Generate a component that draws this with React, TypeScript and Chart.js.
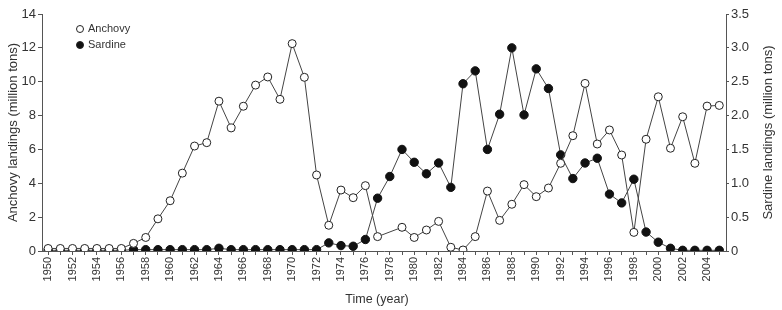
import React, { useEffect, useRef } from "react";
import { Chart, registerables } from "chart.js";

Chart.register(...registerables);

const years = [
  1950, 1951, 1952, 1953, 1954, 1955, 1956, 1957, 1958, 1959,
  1960, 1961, 1962, 1963, 1964, 1965, 1966, 1967, 1968, 1969,
  1970, 1971, 1972, 1973, 1974, 1975, 1976, 1977, 1978, 1979,
  1980, 1981, 1982, 1983, 1984, 1985, 1986, 1987, 1988, 1989,
  1990, 1991, 1992, 1993, 1994, 1995, 1996, 1997, 1998, 1999,
  2000, 2001, 2002, 2003, 2004, 2005,
];

const anchovy: (number | null)[] = [
  0.15, 0.15, 0.15, 0.15, 0.15, 0.15, 0.15, 0.45, 0.8, 1.9,
  2.97, 4.6, 6.2, 6.4, 8.85, 7.27, 8.55, 9.8, 10.28, 8.96,
  12.25, 10.26, 4.49, 1.52, 3.6, 3.15, 3.86, 0.85, null, 1.4,
  0.8, 1.24, 1.75, 0.22, 0.06, 0.85, 3.54, 1.81, 2.76, 3.92,
  3.21, 3.72, 5.18, 6.81, 9.9, 6.32, 7.15, 5.67, 1.1, 6.6,
  9.11, 6.07, 7.93, 5.18, 8.56, 8.6,
];

const sardine: number[] = [
  0.01, 0.01, 0.01, 0.01, 0.01, 0.01, 0.01, 0.02, 0.02, 0.02,
  0.02, 0.02, 0.02, 0.02, 0.04, 0.02, 0.02, 0.02, 0.02, 0.02,
  0.02, 0.02, 0.02, 0.12, 0.08, 0.07, 0.17, 0.78, 1.1, 1.5,
  1.31, 1.14, 1.3, 0.94, 2.47, 2.66, 1.5, 2.02, 3.0, 2.01,
  2.69, 2.4, 1.42, 1.07, 1.3, 1.37, 0.84, 0.71, 1.06, 0.28,
  0.13, 0.04, 0.01, 0.01, 0.01, 0.01,
];

const seriesNames = ["Anchovy", "Sardine"];
const leftTitle = "Anchovy landings (million tons)";
const rightTitle = "Sardine landings (million tons)";
const xTitle = "Time (year)";

const FONT = "'Liberation Sans', Arial, sans-serif";
const INK = "#333333";
const AXIS = "#555555";

const overlayPlugin = {
  id: "overlay",
  afterDraw(chart: any) {
    const ctx = chart.ctx as CanvasRenderingContext2D;
    const area = chart.chartArea;
    ctx.save();
    // legend
    const lx = area.left + 38;
    const rows = [area.top + 15, area.top + 31];
    ctx.font = `11px ${FONT}`;
    ctx.textBaseline = "middle";
    ctx.textAlign = "left";
    rows.forEach((y, i) => {
      ctx.beginPath();
      ctx.arc(lx, y, 3.5, 0, Math.PI * 2);
      ctx.fillStyle = i === 0 ? "#ffffff" : "#111111";
      ctx.fill();
      ctx.lineWidth = 1;
      ctx.strokeStyle = "#222222";
      ctx.stroke();
      ctx.fillStyle = INK;
      ctx.fillText(seriesNames[i], lx + 8, y);
    });
    // x axis title
    ctx.font = `12.5px ${FONT}`;
    ctx.textAlign = "center";
    ctx.textBaseline = "middle";
    ctx.fillStyle = INK;
    ctx.fillText(xTitle, 377, 300);
    // right axis title (reads bottom to top)
    ctx.translate(768, (area.top + area.bottom) / 2);
    ctx.rotate(-Math.PI / 2);
    ctx.font = `13px ${FONT}`;
    ctx.fillText(rightTitle, 0, 0);
    ctx.restore();
  },
};

export default function App() {
  const ref = useRef<HTMLCanvasElement>(null);
  useEffect(() => {
    if (!ref.current) return;
    const chart = new Chart(ref.current, {
      type: "line",
      data: {
        datasets: [
          {
            label: seriesNames[0],
            data: years.map((y, i) => ({ x: y, y: anchovy[i] })) as any,
            yAxisID: "y",
            borderColor: "#444444",
            borderWidth: 1,
            pointRadius: 4,
            pointBorderWidth: 1,
            pointBackgroundColor: "#ffffff",
            pointBorderColor: "#222222",
            spanGaps: true,
            tension: 0,
          },
          {
            label: seriesNames[1],
            data: years.map((y, i) => ({ x: y, y: sardine[i] })) as any,
            yAxisID: "y2",
            borderColor: "#444444",
            borderWidth: 1,
            pointRadius: 4.2,
            pointBorderWidth: 1,
            pointBackgroundColor: "#111111",
            pointBorderColor: "#111111",
            tension: 0,
          },
        ],
      },
      options: {
        animation: false,
        responsive: true,
        maintainAspectRatio: false,
        layout: { padding: { top: 14, left: 0, right: 0, bottom: 0 } },
        plugins: {
          legend: { display: false },
          tooltip: { enabled: false },
        },
        scales: {
          x: {
            type: "linear",
            min: 1949.5,
            max: 2005.55,
            afterFit: (s: any) => {
              s.height = 59;
            },
            border: { display: true, color: AXIS, width: 1 },
            grid: {
              display: true,
              drawOnChartArea: false,
              drawTicks: true,
              tickLength: 4,
              color: AXIS,
            },
            ticks: {
              stepSize: 1,
              autoSkip: false,
              includeBounds: false,
              maxRotation: 90,
              minRotation: 90,
              padding: 2,
              color: INK,
              font: { family: FONT, size: 11 },
              callback: (v: any) => (Number(v) % 2 === 0 ? String(v) : ""),
            },
          },
          y: {
            type: "linear",
            position: "left",
            min: 0,
            max: 14,
            afterFit: (s: any) => {
              s.width = 42;
            },
            border: { display: true, color: AXIS, width: 1 },
            grid: {
              display: true,
              drawOnChartArea: false,
              drawTicks: true,
              tickLength: 4,
              color: AXIS,
            },
            ticks: {
              stepSize: 2,
              padding: 2,
              color: INK,
              font: { family: FONT, size: 13 },
            },
            title: {
              display: true,
              text: leftTitle,
              color: INK,
              font: { family: FONT, size: 13 },
              padding: { top: 6, bottom: 0 },
            },
          },
          y2: {
            type: "linear",
            position: "right",
            min: 0,
            max: 3.5,
            afterFit: (s: any) => {
              s.width = 56;
            },
            border: { display: true, color: AXIS, width: 1 },
            grid: {
              display: true,
              drawOnChartArea: false,
              drawTicks: true,
              tickLength: 3,
              color: AXIS,
            },
            ticks: {
              stepSize: 0.5,
              padding: 2,
              color: INK,
              font: { family: FONT, size: 13 },
              callback: (v: any) => (Number(v) === 0 ? "0" : Number(v).toFixed(1)),
            },
          },
        },
      },
      plugins: [overlayPlugin],
    });
    return () => chart.destroy();
  }, []);
  return (
    <div style={{ position: "fixed", left: 0, top: 0, width: 782, height: 310, background: "#fff" }}>
      <canvas ref={ref} />
    </div>
  );
}
